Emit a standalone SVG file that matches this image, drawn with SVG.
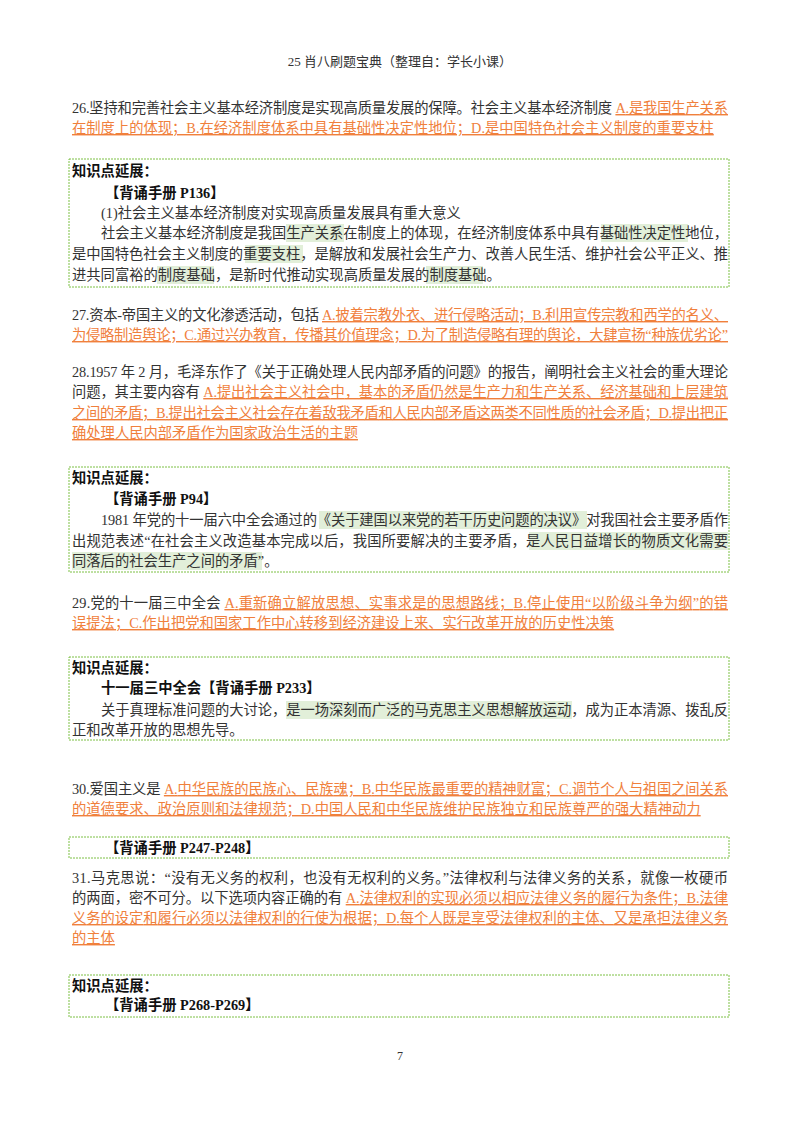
<svg xmlns="http://www.w3.org/2000/svg" width="800" height="1132" viewBox="0 0 800 1132">
<style>
text{font-family:"Liberation Serif","Noto Sans CJK SC",serif;font-size:14.3px;fill:#333}
.o{fill:#f0803c;text-decoration:underline}
.b{font-weight:bold;fill:#111}
.box{fill:none;stroke:#7dc045;stroke-width:1;stroke-dasharray:2 1}
.hl{fill:#e2efd9}
</style>
<rect width="800" height="1132" fill="#fff"/>
<text x="400" y="66" text-anchor="middle" style="font-size:13px">25 肖八刷题宝典（整理自：学长小课）</text>

<g id="q26">
<text x="72" y="113" textLength="656" lengthAdjust="spacing">26.坚持和完善社会主义基本经济制度是实现高质量发展的保障。社会主义基本经济制度 <tspan class="o">A.是我国生产关系</tspan></text>
<text x="72" y="133" class="o">在制度上的体现；B.在经济制度体系中具有基础性决定性地位；D.是中国特色社会主义制度的重要支柱</text>
</g>
<g id="box1">
<rect class="box" x="69" y="159" width="660" height="128"/>
<rect class="hl" x="286" y="224" width="58" height="18"/>
<rect class="hl" x="601" y="224" width="87" height="18"/>
<rect class="hl" x="245" y="245" width="58" height="18"/>
<rect class="hl" x="157" y="266" width="57" height="18"/>
<rect class="hl" x="426" y="266" width="57" height="18"/>
<text x="72" y="176" class="b">知识点延展：</text>
<text x="105" y="198" class="b">【背诵手册 P136】</text>
<text x="101" y="218">(1)社会主义基本经济制度对实现高质量发展具有重大意义</text>
<text x="101" y="238" textLength="627" lengthAdjust="spacing">社会主义基本经济制度是我国生产关系在制度上的体现，在经济制度体系中具有基础性决定性地位，</text>
<text x="72" y="259" textLength="656" lengthAdjust="spacing">是中国特色社会主义制度的重要支柱，是解放和发展社会生产力、改善人民生活、维护社会公平正义、推</text>
<text x="72" y="280">进共同富裕的制度基础，是新时代推动实现高质量发展的制度基础。</text>
</g>
<g id="q27">
<text x="72" y="320" textLength="656" lengthAdjust="spacing">27.资本-帝国主义的文化渗透活动，包括 <tspan class="o">A.披着宗教外衣、进行侵略活动；B.利用宣传宗教和西学的名义、</tspan></text>
<text x="72" y="340" textLength="656" lengthAdjust="spacing" class="o">为侵略制造舆论；C.通过兴办教育，传播其价值理念；D.为了制造侵略有理的舆论，大肆宣扬“种族优劣论”</text>
</g>
<g id="q28">
<text x="72" y="377" textLength="656" lengthAdjust="spacing">28.1957 年 2 月，毛泽东作了《关于正确处理人民内部矛盾的问题》的报告，阐明社会主义社会的重大理论</text>
<text x="72" y="397" textLength="656" lengthAdjust="spacing">问题，其主要内容有 <tspan class="o">A.提出社会主义社会中，基本的矛盾仍然是生产力和生产关系、经济基础和上层建筑</tspan></text>
<text x="72" y="418" textLength="656" lengthAdjust="spacing" class="o">之间的矛盾；B.提出社会主义社会存在着敌我矛盾和人民内部矛盾这两类不同性质的社会矛盾；D.提出把正</text>
<text x="72" y="438" class="o">确处理人民内部矛盾作为国家政治生活的主题</text>
</g>
<g id="box2">
<rect class="box" x="69" y="467" width="660" height="105"/>
<rect class="hl" x="319" y="511" width="268" height="18"/>
<rect class="hl" x="529" y="532" width="199" height="18"/>
<rect class="hl" x="72" y="552" width="190" height="18"/>
<text x="72" y="483" class="b">知识点延展：</text>
<text x="105" y="504" class="b">【背诵手册 P94】</text>
<text x="101" y="525" textLength="627" lengthAdjust="spacing">1981 年党的十一届六中全会通过的《关于建国以来党的若干历史问题的决议》对我国社会主要矛盾作</text>
<text x="72" y="546" textLength="656" lengthAdjust="spacing">出规范表述“在社会主义改造基本完成以后，我国所要解决的主要矛盾，是人民日益增长的物质文化需要</text>
<text x="72" y="566">同落后的社会生产之间的矛盾”。</text>
</g>
<g id="q29">
<text x="72" y="608" textLength="656" lengthAdjust="spacing">29.党的十一届三中全会 <tspan class="o">A.重新确立解放思想、实事求是的思想路线；B.停止使用“以阶级斗争为纲”的错</tspan></text>
<text x="72" y="628" class="o">误提法；C.作出把党和国家工作中心转移到经济建设上来、实行改革开放的历史性决策</text>
</g>
<g id="box3">
<rect class="box" x="69" y="657" width="660" height="83"/>
<rect class="hl" x="286" y="701" width="286" height="18"/>
<text x="72" y="673" class="b">知识点延展：</text>
<text x="101" y="693" class="b">十一届三中全会【背诵手册 P233】</text>
<text x="101" y="715" textLength="627" lengthAdjust="spacing">关于真理标准问题的大讨论，是一场深刻而广泛的马克思主义思想解放运动，成为正本清源、拨乱反</text>
<text x="72" y="735">正和改革开放的思想先导。</text>
</g>
<g id="q30">
<text x="72" y="794" textLength="656" lengthAdjust="spacing">30.爱国主义是 <tspan class="o">A.中华民族的民族心、民族魂；B.中华民族最重要的精神财富；C.调节个人与祖国之间关系</tspan></text>
<text x="72" y="814" class="o">的道德要求、政治原则和法律规范；D.中国人民和中华民族维护民族独立和民族尊严的强大精神动力</text>
</g>
<g id="box4">
<rect class="box" x="69" y="837" width="660" height="21"/>
<text x="105" y="853" class="b">【背诵手册 P247-P248】</text>
</g>
<g id="q31">
<text x="72" y="883" textLength="656" lengthAdjust="spacing">31.马克思说：“没有无义务的权利，也没有无权利的义务。”法律权利与法律义务的关系，就像一枚硬币</text>
<text x="72" y="903" textLength="656" lengthAdjust="spacing">的两面，密不可分。以下选项内容正确的有 <tspan class="o">A.法律权利的实现必须以相应法律义务的履行为条件；B.法律</tspan></text>
<text x="72" y="923" textLength="656" lengthAdjust="spacing" class="o">义务的设定和履行必须以法律权利的行使为根据；D.每个人既是享受法律权利的主体、又是承担法律义务</text>
<text x="72" y="943" class="o">的主体</text>
</g>
<g id="box5">
<rect class="box" x="69" y="975" width="660" height="42"/>
<text x="72" y="991" class="b">知识点延展：</text>
<text x="105" y="1010" class="b">【背诵手册 P268-P269】</text>
</g>
<text x="400" y="1060" text-anchor="middle" style="font-size:12px">7</text>
</svg>
